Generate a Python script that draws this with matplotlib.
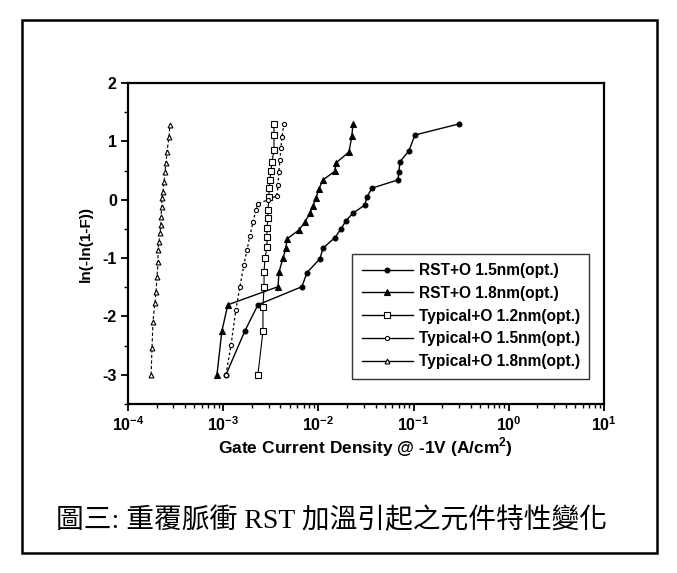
import math
import matplotlib
matplotlib.use("Agg")
import matplotlib.pyplot as plt
from matplotlib.lines import Line2D
from matplotlib.patches import Rectangle
from matplotlib.ticker import FuncFormatter, MultipleLocator, LogLocator, NullFormatter

plt.rcParams['font.family'] = ['Liberation Sans', 'DejaVu Sans']
plt.rcParams['font.weight'] = 'bold'
plt.rcParams['mathtext.fontset'] = 'custom'
plt.rcParams['mathtext.rm'] = 'Liberation Sans:bold'
plt.rcParams['mathtext.bf'] = 'Liberation Sans:bold'

# gate current density (A/cm^2) vs Weibull ln(-ln(1-F))
rst15_j = [1.07e-3, 1.69e-3, 2.32e-3, 6.73e-3, 7.59e-3, 1.04e-2, 1.12e-2, 1.49e-2, 1.73e-2, 1.95e-2,
           2.31e-2, 3.08e-2, 3.24e-2, 3.66e-2, 6.86e-2, 7.03e-2, 7.20e-2, 8.95e-2, 1.035e-1, 3.0e-1]
rst15_w = [-3.0, -2.25, -1.80, -1.49, -1.25, -1.01, -0.83, -0.65, -0.50, -0.36,
           -0.23, -0.09, 0.05, 0.20, 0.34, 0.48, 0.65, 0.84, 1.11, 1.30]

rst18_j = [8.61e-4, 9.7e-4, 1.12e-3, 3.77e-3, 3.86e-3, 4.25e-3, 4.57e-3, 4.68e-3, 6.25e-3, 7.23e-3,
           8.16e-3, 8.77e-3, 9.44e-3, 1.01e-2, 1.12e-2, 1.49e-2, 1.53e-2, 2.10e-2, 2.25e-2, 2.31e-2]
rst18_w = [-3.0, -2.25, -1.80, -1.49, -1.24, -1.0, -0.83, -0.67, -0.52, -0.38,
           -0.23, -0.11, 0.03, 0.18, 0.34, 0.49, 0.63, 0.82, 1.09, 1.30]

typ12_j = [2.32e-3, 2.62e-3, 2.62e-3, 2.69e-3, 2.69e-3, 2.75e-3, 2.89e-3, 2.89e-3, 2.89e-3, 2.96e-3,
           2.96e-3, 3.03e-3, 3.03e-3, 3.10e-3, 3.18e-3, 3.26e-3, 3.42e-3, 3.42e-3, 3.42e-3]
typ12_w = [-3.0, -2.25, -1.84, -1.49, -1.24, -1.0, -0.81, -0.64, -0.48, -0.31,
           -0.17, 0.05, 0.20, 0.34, 0.49, 0.65, 0.85, 1.11, 1.30]

typ15_j = [1.07e-3, 1.21e-3, 1.36e-3, 1.50e-3, 1.65e-3, 1.78e-3, 1.91e-3, 2.06e-3, 2.21e-3, 2.32e-3,
           2.96e-3, 3.67e-3, 3.77e-3, 3.85e-3, 3.95e-3, 4.05e-3, 4.15e-3, 4.35e-3]
typ15_w = [-3.0, -2.49, -1.89, -1.49, -1.12, -0.86, -0.62, -0.38, -0.17, -0.07,
           0.0, 0.07, 0.25, 0.48, 0.68, 0.89, 1.08, 1.30]

typ18_j = [1.75e-4, 1.79e-4, 1.83e-4, 1.92e-4, 1.97e-4, 2.02e-4, 2.07e-4, 2.07e-4, 2.12e-4, 2.17e-4, 2.22e-4,
           2.22e-4, 2.27e-4, 2.27e-4, 2.33e-4, 2.39e-4, 2.45e-4, 2.51e-4, 2.57e-4, 2.70e-4, 2.76e-4]
typ18_w = [-3.0, -2.54, -2.09, -1.77, -1.58, -1.32, -1.07, -0.86, -0.72, -0.57, -0.43,
           -0.29, -0.12, 0.03, 0.13, 0.30, 0.48, 0.63, 0.82, 1.08, 1.28]

labels = ['RST+O 1.5nm(opt.)', 'RST+O 1.8nm(opt.)', 'Typical+O 1.2nm(opt.)',
          'Typical+O 1.5nm(opt.)', 'Typical+O 1.8nm(opt.)']

fig = plt.figure(figsize=(6.77, 5.73), dpi=100)
ax = fig.add_axes([0.189, 0.295, 0.703, 0.560])

styles = [
    dict(marker='o', ms=3.5, mfc='k', ls='-', lw=1.0),
    dict(marker='^', ms=5, mfc='k', ls='-', lw=1.0),
    dict(marker='s', ms=4, mfc='white', ls='-', lw=0.8),
    dict(marker='o', ms=3, mfc='white', ls=(0, (2, 2)), lw=0.9),
    dict(marker='^', ms=3.5, mfc='white', ls=(0, (3, 2)), lw=0.8),
]
series = [(rst15_j, rst15_w), (rst18_j, rst18_w), (typ12_j, typ12_w),
          (typ15_j, typ15_w), (typ18_j, typ18_w)]

for (j, w), st in zip(series, styles):
    ax.plot(j, w, color='k', mec='k', mew=0.8, **st)

ax.set_xscale('log')
ax.set_xlim(1e-4, 10)
ax.set_ylim(-3.5, 2)
ax.yaxis.set_major_locator(MultipleLocator(1))
ax.yaxis.set_minor_locator(MultipleLocator(0.5))
ax.xaxis.set_major_locator(LogLocator(base=10))
ax.xaxis.set_minor_locator(LogLocator(base=10, subs=range(2, 10)))
ax.xaxis.set_minor_formatter(NullFormatter())
ax.xaxis.set_major_formatter(FuncFormatter(lambda v, p: r'$\mathbf{10^{%d}}$' % round(math.log10(v))))
ax.yaxis.set_major_formatter(FuncFormatter(lambda v, p: '%d' % v))

ax.tick_params(which='major', direction='out', length=5, width=1.3, labelsize=11.5, pad=3)
ax.tick_params(which='minor', direction='out', length=3, width=1.0)
for s in ax.spines.values():
    s.set_linewidth(1.6)

ax.set_xlabel(r'Gate Current Density @ -1V (A/cm$^\mathbf{2}$)', fontsize=12.5, fontweight='bold', labelpad=1)
ax.set_ylabel('ln(-ln(1-F))', fontsize=11, fontweight='bold', labelpad=7)

handles = [Line2D([], [], color='k', mec='k', mew=0.8, marker=st['marker'], ms=st['ms'],
                  mfc=st['mfc'], ls='-', lw=1.0) for st in styles]
leg = ax.legend(handles, labels, loc='lower right', bbox_to_anchor=(0.985, 0.055),
                fontsize=11.2, frameon=True, fancybox=False, edgecolor='k',
                handlelength=3.3, labelspacing=0.5, borderpad=0.6, handletextpad=0.35)
leg.get_frame().set_linewidth(1.0)

fig.text(0.49, 0.091, '圖三: 重覆脈衝 RST 加溫引起之元件特性變化', ha='center', va='center',
         fontsize=20, fontweight='normal', family=['Liberation Serif', 'Noto Sans CJK TC'])

fig.patches.append(Rectangle((0.0325, 0.035), 0.938, 0.930, transform=fig.transFigure,
                             fill=False, edgecolor='k', linewidth=1.8))

fig.savefig('out.png', dpi=100)
